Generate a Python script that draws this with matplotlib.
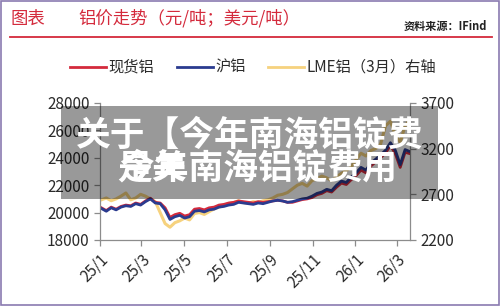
import matplotlib.pyplot as plt
import pandas as pd
from matplotlib.patches import Rectangle

plt.rcParams['font.family'] = ['Noto Sans CJK SC', 'DejaVu Sans']

# weekly points, Jan 2025 - Mar 2026
dates = pd.date_range('2025-01-03', '2026-03-20', freq='W-FRI')

# 沪铝 (yuan/t)
shfe = [20300, 20100, 20350, 20200, 20400,
        20500, 20450, 20650, 20550,
        20800, 21000, 20700, 20650,
        20200, 19500, 19700, 19800,
        19600, 19700, 20100, 20150, 20050,
        20200, 20250, 20400, 20450,
        20550, 20600, 20750, 20700,
        20650, 20600, 20700, 20650, 20750,
        20850, 20900, 20850, 20750,
        20800, 20900, 21000, 21050, 21200,
        21400, 21500, 21700, 21600,
        22000, 22300, 22200, 22600,
        22900, 23300, 23100, 23600, 23900,
        24200, 24550, 25100, 24550,
        23500, 24600, 24450]

# 现货铝 (yuan/t)
spot = [20350, 20150, 20400, 20250, 20450,
        20550, 20500, 20700, 20600,
        20850, 21050, 20750, 20700,
        20350, 19650, 19850, 19950,
        19750, 19850, 20250, 20300, 20200,
        20350, 20400, 20550, 20600,
        20700, 20750, 20850, 20800,
        20750, 20700, 20800, 20750, 20800,
        20850, 20900, 20850, 20750,
        20750, 20850, 20950, 21000, 21100,
        21300, 21400, 21600, 21500,
        21850, 22150, 22050, 22400,
        22700, 23100, 22900, 23400, 23700,
        24000, 24350, 24900, 24300,
        23300, 24400, 24300]

# LME铝 3月 (usd/t, right axis)
lme = [2640, 2660, 2630, 2650, 2680,
       2715, 2640, 2660, 2700,
       2680, 2650, 2620, 2500,
       2380, 2340, 2390, 2410,
       2440, 2420, 2490, 2500, 2480,
       2510, 2540, 2560, 2580,
       2600, 2610, 2630, 2610,
       2600, 2620, 2610, 2630, 2640,
       2660, 2690, 2700, 2720,
       2760, 2800, 2820, 2790, 2850,
       2870, 2900, 2880, 2850,
       2890, 2930, 2960, 3000,
       3080, 3150, 3120, 3180, 3200,
       3250, 3450, 3500, 3350,
       3270, 3450, 3520]

tick_dates = pd.date_range('2025-01-01', '2026-03-01', freq='2MS')
tick_labels = ['25/1', '25/3', '25/5', '25/7', '25/9', '25/11', '26/1', '26/3']

red = '#d42a3c'
blue = '#2a3b8f'
yellow = '#f6d27e'
grey = '#8c8c8c'
txt = '#2b2b2b'

fig = plt.figure(figsize=(5, 3.06), dpi=100)
ax = fig.add_axes([0.2, 0.2157, 0.62, 0.4477])
ax2 = ax.twinx()

ax2.plot(dates, lme, color=yellow, lw=2.2)
ax.plot(dates, spot, color=red, lw=2.0)
ax.plot(dates, shfe, color=blue, lw=2.0)
ax.set_zorder(ax2.get_zorder() + 1)
ax.patch.set_visible(False)

ax.set_xlim(pd.Timestamp('2025-01-01'), pd.Timestamp('2026-03-20'))
ax.set_ylim(18000, 28000)
ax.set_yticks(range(18000, 28001, 2000))
ax2.set_ylim(2200, 3700)
ax2.set_yticks(range(2200, 3701, 500))
ax.set_xticks(tick_dates)
ax.set_xticklabels(tick_labels, rotation=45, ha='right', rotation_mode='anchor')

for a in (ax, ax2):
    a.spines['top'].set_visible(False)
    for s in ('left', 'right', 'bottom'):
        a.spines[s].set_color(grey)
        a.spines[s].set_linewidth(0.9)
    a.tick_params(colors=grey, labelcolor=txt, labelsize=11, length=4, width=0.9)
ax.spines['right'].set_visible(False)
ax2.spines['left'].set_visible(False)
ax2.spines['bottom'].set_visible(False)

# header
fig.text(0.02, 0.94, '图表', color=red, fontsize=12.5, va='center', style='italic')
fig.text(0.156, 0.94, '铝价走势（元/吨；美元/吨）', color=red, fontsize=12.5, va='center', style='italic')
fig.text(0.974, 0.915, '资料来源：IFind', color='#222222', fontsize=8, weight='bold', ha='right', va='center')
fig.add_artist(plt.Line2D([0.02, 0.984], [0.879, 0.879], color=red, lw=1.3))

# legend
leg_items = [(0.14, red, '现货铝'), (0.354, blue, '沪铝'), (0.536, yellow, 'LME铝（3月）右轴')]
for x0, c, lab in leg_items:
    fig.add_artist(plt.Line2D([x0, x0 + 0.072], [0.781, 0.781], color=c, lw=2))
    fig.text(x0 + 0.077, 0.781, lab, color=txt, fontsize=11, va='center')

# grey overlay with white text
fig.add_artist(Rectangle((0.122, 0.35), 0.754, 0.304, transform=fig.transFigure,
                         facecolor='black', alpha=0.4, edgecolor='none', zorder=5))
fig.text(0.152, 0.559, '关于【今年南海铝锭费', color='white', fontsize=25, weight='bold',
         va='center', zorder=6)
fig.text(0.238, 0.451, '今年南海铝锭费用', color='white', fontsize=25, weight='bold',
         va='center', zorder=6)
fig.text(0.234, 0.451, '是关', color='white', fontsize=25, weight='bold',
         va='center', zorder=6)

# frame
fig.add_artist(Rectangle((0.002, 0.003), 0.996, 0.994, transform=fig.transFigure,
                         facecolor='none', edgecolor='#8a7ab0', lw=1.2))

fig.savefig('out.png', dpi=100)
